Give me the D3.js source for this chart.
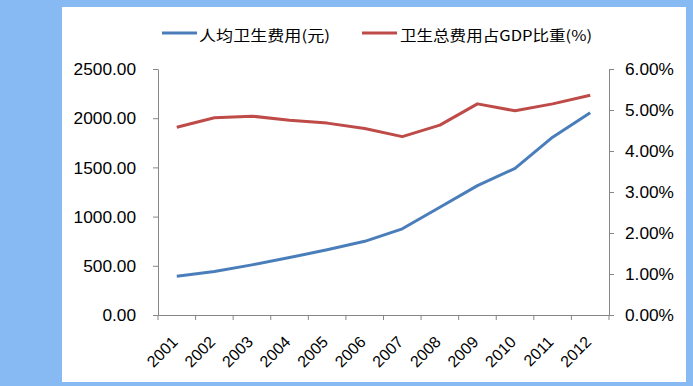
<!DOCTYPE html>
<html><head><meta charset="utf-8">
<script src="https://cdn.jsdelivr.net/npm/d3@7"></script>
<style>body{margin:0;padding:0;background:#87B9F2;}svg{display:block;}</style>
</head><body>
<svg id="c" width="693" height="386"></svg>
<script>
const years = ["2001","2002","2003","2004","2005","2006","2007","2008","2009","2010","2011","2012"];
const perCapita = [393.8, 442.6, 509.5, 583.9, 662.3, 748.8, 876.0, 1094.5, 1314.3, 1490.1, 1807.0, 2056.6];
const gdpShare = [4.58, 4.81, 4.85, 4.75, 4.68, 4.55, 4.35, 4.63, 5.15, 4.98, 5.15, 5.36];
const leftTicks = [0, 500, 1000, 1500, 2000, 2500];
const rightTicks = [0, 1, 2, 3, 4, 5, 6];
const seriesNames = ["人均卫生费用(元)", "卫生总费用占GDP比重(%)"];
const colors = ["#4A7EBB", "#BE4B48"];

const svg = d3.select("#c");
svg.append("rect").attr("x",0).attr("y",0).attr("width",693).attr("height",386).attr("fill","#87B9F2");
svg.append("rect").attr("x",62).attr("y",7).attr("width",624).attr("height",375).attr("fill","#ffffff");

const L = 158, R = 609, T = 69, B = 315;
const x = d3.scaleBand().domain(years).range([L, R]);
const yL = d3.scaleLinear().domain([0, 2500]).range([B, T]);
const yR = d3.scaleLinear().domain([0, 6]).range([B, T]);
const axisColor = "#868686";
const tickFont = "'Liberation Sans', Arial, sans-serif";

const gL = svg.append("g").attr("transform", `translate(${L},0)`)
  .call(d3.axisLeft(yL).tickValues(leftTicks).tickFormat(d3.format(".2f")).tickSize(5).tickSizeOuter(0));
const gR = svg.append("g").attr("transform", `translate(${R},0)`)
  .call(d3.axisRight(yR).tickValues(rightTicks).tickFormat(d => d.toFixed(2) + "%").tickSize(5).tickSizeOuter(0));
const gX = svg.append("g").attr("transform", `translate(0,${B})`)
  .call(d3.axisBottom(x).tickSize(0).tickSizeOuter(0));

[gL, gR, gX].forEach(g => {
  g.select(".domain").attr("stroke", axisColor).attr("stroke-width", 1);
  g.selectAll(".tick line").attr("stroke", axisColor);
  g.selectAll("text").attr("fill", "#000").style("font-family", tickFont).style("font-size", "16px");
});
const sx = 1.08;
gL.selectAll(".tick text").attr("x", -22 / sx).attr("dy", "0.35em").attr("transform", `scale(${sx},1)`);
gR.selectAll(".tick text").attr("x", 16 / sx).attr("dy", "0.35em").attr("transform", `scale(${sx},1)`);

const bounds = years.map(d => x(d)).concat([R]);
svg.append("g").selectAll("line").data(bounds).join("line")
  .attr("x1", d => d).attr("x2", d => d).attr("y1", B).attr("y2", B + 5)
  .attr("stroke", axisColor);

gX.selectAll(".tick text")
  .style("font-size", "16px")
  .attr("text-anchor", "end")
  .attr("transform", "translate(2,28) rotate(-45)")
  .attr("y", 0).attr("dy", 0).attr("x", 0);

const cx = d => x(d) + x.bandwidth() / 2;
const lineL = d3.line().x((d, i) => cx(years[i])).y(d => yL(d));
const lineR = d3.line().x((d, i) => cx(years[i])).y(d => yR(d));
svg.append("path").datum(perCapita).attr("d", lineL).attr("fill", "none")
  .attr("stroke", colors[0]).attr("stroke-width", 3).attr("stroke-linejoin", "round");
svg.append("path").datum(gdpShare).attr("d", lineR).attr("fill", "none")
  .attr("stroke", colors[1]).attr("stroke-width", 3).attr("stroke-linejoin", "round");

const legend = [
  {name: seriesNames[0], color: colors[0], x1: 162, x2: 197, tx: 199, w: 131},
  {name: seriesNames[1], color: colors[1], x1: 362, x2: 397, tx: 400, w: 192}
];
const lg = svg.append("g");
legend.forEach(l => {
  lg.append("line").attr("x1", l.x1).attr("x2", l.x2).attr("y1", 33).attr("y2", 33)
    .attr("stroke", l.color).attr("stroke-width", 3);
  lg.append("text").attr("x", l.tx).attr("y", 41).text(l.name)
    .style("font-family", "'Noto Sans CJK SC', sans-serif").style("font-size", "14.5px")
    .attr("textLength", l.w).attr("lengthAdjust", "spacingAndGlyphs").attr("fill", "#000");
});
</script>
</body></html>
